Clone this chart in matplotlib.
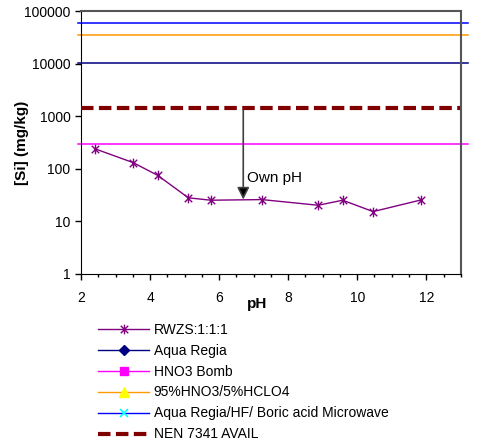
import numpy as np
import matplotlib
matplotlib.use("Agg")
import matplotlib.pyplot as plt
from matplotlib.lines import Line2D
from matplotlib.path import Path

plt.rcParams['font.family'] = ['Liberation Sans', 'DejaVu Sans']

# RWZS:1:1:1 leaching curve
ph = [2.42, 3.51, 4.22, 5.11, 5.76, 7.24, 8.87, 9.58, 10.46, 11.85]
si = [238, 131, 75, 28, 25.2, 25.9, 20.2, 25.2, 15.3, 25.5]

# total contents (horizontal reference lines)
ref_names = ["Aqua Regia", "HNO3 Bomb", "95%HNO3/5%HCLO4",
             "Aqua Regia/HF/ Boric acid Microwave"]
ref_values = [10100, 292, 34500, 60000]
nen_value = 1450
own_ph = 6.7

# Excel-like star marker: X plus vertical bar
star = Path([(-1, -1), (1, 1), (-1, 1), (1, -1), (0, -1.3), (0, 1.3)],
            [Path.MOVETO, Path.LINETO, Path.MOVETO, Path.LINETO,
             Path.MOVETO, Path.LINETO])

fig = plt.figure(figsize=(4.82, 4.46), dpi=100)
ax = fig.add_axes([0.168, 0.386, 0.788, 0.589])

ref_colors = ["#000080", "#FF00FF", "#FF9900", "#0000FF"]
xs = [1.9, 13.2]
for val, col in zip(ref_values, ref_colors):
    ax.plot(xs, [val, val], color=col, lw=1.1, clip_on=False, zorder=2)
ax.plot([2.0, 12.97], [nen_value, nen_value], color="#800000", lw=3,
        dashes=(3, 1.3), zorder=3)

ax.plot(ph, si, color="#800080", lw=1, marker=star, ms=7, mew=1,
        mfc="none", mec="#800080", zorder=4)

ax.annotate("", xy=(own_ph, 26), xytext=(own_ph, 1300),
            arrowprops=dict(arrowstyle="-|>", color="black", lw=1.2,
                            mutation_scale=18, shrinkA=0, shrinkB=0,
                            ec="#404040", fc="black"))
ax.text(own_ph + 0.12, 67, "Own pH", fontsize=11, ha="left", va="center")

ax.set_yscale("log")
ax.set_ylim(1, 100000)
ax.set_xlim(2, 13)
ax.set_xticks([2, 4, 6, 8, 10, 12])
ax.set_xticks(np.arange(2, 13.01, 0.5), minor=True)
ax.set_yticks([1, 10, 100, 1000, 10000, 100000])
ax.set_yticklabels(["1", "10", "100", "1000", "10000", "100000"])
ax.yaxis.set_minor_locator(matplotlib.ticker.NullLocator())
ax.tick_params(axis="both", which="major", direction="out", length=4,
               labelsize=10, colors="black", width=1)
ax.tick_params(axis="x", which="minor", direction="out", length=2.5, width=1)
ax.tick_params(axis="x", pad=8)

for s in ["left", "bottom"]:
    ax.spines[s].set_color("black")
for s in ["top", "right"]:
    ax.spines[s].set_color("#555555")
    ax.spines[s].set_linewidth(1.5)

ax.set_xlabel("pH", fontsize=11, fontweight="bold")
ax.xaxis.set_label_coords(0.463, -0.09)
ax.set_ylabel("[Si] (mg/kg)", fontsize=11, fontweight="bold")
ax.yaxis.set_label_coords(-0.137, 0.5)

handles = [
    Line2D([], [], color="#800080", lw=1, marker=star, ms=7, mfc="none",
           mec="#800080"),
    Line2D([], [], color="#000080", lw=1, marker="D", ms=5,
           mfc="#000080", mec="#000080"),
    Line2D([], [], color="#FF00FF", lw=1, marker="s", ms=6,
           mfc="#FF00FF", mec="#FF00FF"),
    Line2D([], [], color="#FF9900", lw=1, marker="^", ms=7,
           mfc="#FFFF00", mec="#FFFF00"),
    Line2D([], [], color="#0000FF", lw=1, marker="x", ms=6,
           mec="#00FFFF", mew=1.2),
    Line2D([], [], color="#800000", lw=3, dashes=(3, 1.3)),
]
labels = ["RWZS:1:1:1"] + ref_names + ["NEN 7341 AVAIL"]
fig.legend(handles, labels, loc="upper left",
           bbox_to_anchor=(0.192, 0.289), frameon=False, fontsize=10,
           handlelength=3.7, handletextpad=0.3, labelspacing=0.5,
           borderaxespad=0)

fig.savefig("out.png", dpi=100)
